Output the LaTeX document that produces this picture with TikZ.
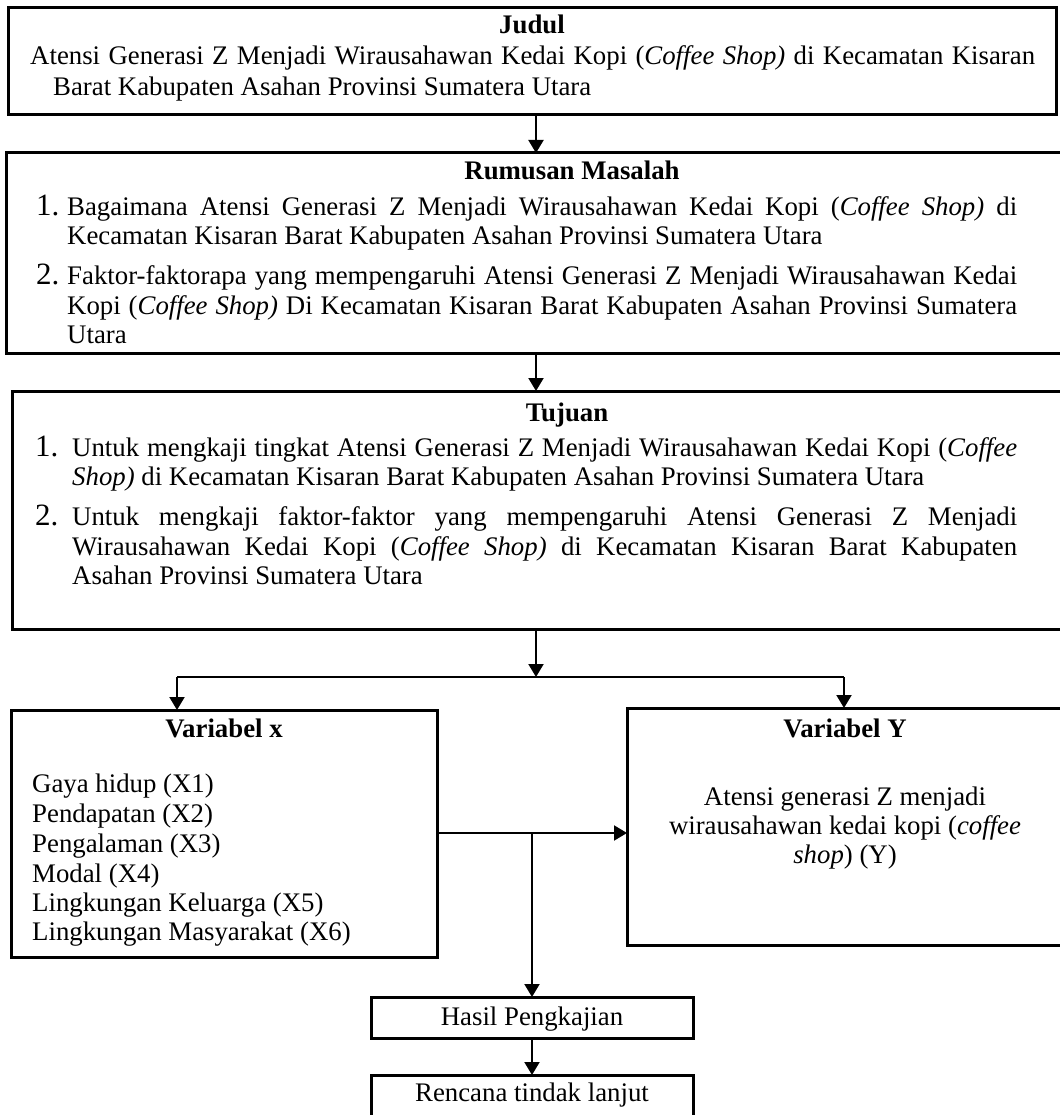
\documentclass[tikz,border=0pt]{standalone}
\usepackage{fontspec}
\setmainfont{Liberation Serif}
\usetikzlibrary{arrows.meta}
\begin{document}
\begin{tikzpicture}[x=1pt,y=-1pt,
  bx/.style={draw, line width=3pt, anchor=north west, inner sep=0pt, outer sep=0pt},
  txt/.style={anchor=base west, inner sep=0pt, font=\fontsize{26.8}{30}\selectfont},
  ctxt/.style={anchor=base, inner sep=0pt, font=\fontsize{26.8}{30}\selectfont},
  ttl/.style={anchor=base, inner sep=0pt, font=\fontsize{26.8}{30}\selectfont\bfseries},
  num/.style={anchor=base west, inner sep=0pt, font=\fontsize{31}{32}\selectfont},
  arr/.style={line width=2pt, -{Triangle[length=13pt,width=15pt]}},
  ln/.style={line width=2pt}
]
\useasboundingbox (0,0) rectangle (1059,1115);

% boxes
\node[bx, minimum width=1048pt, minimum height=107pt] (judul) at (8,8) {};
\node[bx, minimum width=1060pt, minimum height=200pt] (rumusan) at (6,153) {};
\node[bx, minimum width=1055pt, minimum height=238pt] (tujuan) at (12,391) {};
\node[bx, minimum width=426pt, minimum height=247pt] (varx) at (11,710) {};
\node[bx, minimum width=436pt, minimum height=237pt] (vary) at (627,708) {};
\node[bx, minimum width=322pt, minimum height=41pt] (hasil) at (371,997) {};
\node[bx, minimum width=322pt, minimum height=60pt] (rencana) at (371,1075) {};

% Judul text
\node[ttl] (jt) at (532,34) {Judul};
\node[txt] (j1) at (30,65) {\makebox[1005pt][s]{Atensi Generasi Z Menjadi Wirausahawan Kedai Kopi (\textit{Coffee Shop)} di Kecamatan Kisaran}};
\node[txt] (j2) at (53,96) {Barat Kabupaten Asahan Provinsi Sumatera Utara};

% Rumusan text
\node[ttl] (rt) at (572,180) {Rumusan Masalah};
\node[num] (r1n) at (36,215) {1.};
\node[txt] (r1a) at (67,215) {\makebox[950pt][s]{Bagaimana Atensi Generasi Z Menjadi Wirausahawan Kedai Kopi (\textit{Coffee Shop)} di}};
\node[txt] (r1b) at (67,244) {Kecamatan Kisaran Barat Kabupaten Asahan Provinsi Sumatera Utara};
\node[num] (r2n) at (36,284) {2.};
\node[txt] (r2a) at (67,284) {\makebox[950pt][s]{Faktor-faktorapa yang mempengaruhi Atensi Generasi Z Menjadi Wirausahawan Kedai}};
\node[txt] (r2b) at (67,314) {\makebox[950pt][s]{Kopi (\textit{Coffee Shop)} Di Kecamatan Kisaran Barat Kabupaten Asahan Provinsi Sumatera}};
\node[txt] (r2c) at (67,343) {Utara};

% Tujuan text
\node[ttl] (tt) at (567,421) {Tujuan};
\node[num] (t1n) at (35,456) {1.};
\node[txt] (t1a) at (72,456) {\makebox[945pt][s]{Untuk mengkaji tingkat Atensi Generasi Z Menjadi Wirausahawan Kedai Kopi (\textit{Coffee}}};
\node[txt] (t1b) at (72,485) {\textit{Shop)} di Kecamatan Kisaran Barat Kabupaten Asahan Provinsi Sumatera Utara};
\node[num] (t2n) at (35,525) {2.};
\node[txt] (t2a) at (72,525) {\makebox[945pt][s]{Untuk mengkaji faktor-faktor yang mempengaruhi Atensi Generasi Z Menjadi}};
\node[txt] (t2b) at (72,555) {\makebox[945pt][s]{Wirausahawan Kedai Kopi (\textit{Coffee Shop)} di Kecamatan Kisaran Barat Kabupaten}};
\node[txt] (t2c) at (72,584) {Asahan Provinsi Sumatera Utara};

% Variabel x
\node[ttl] (xt) at (224,737) {Variabel x};
\node[txt] (x1) at (32,792) {Gaya hidup (X1)};
\node[txt] (x2) at (32,822) {Pendapatan (X2)};
\node[txt] (x3) at (32,852) {Pengalaman (X3)};
\node[txt] (x4) at (32,882) {Modal (X4)};
\node[txt] (x5) at (32,911) {Lingkungan Keluarga (X5)};
\node[txt] (x6) at (32,940) {Lingkungan Masyarakat (X6)};

% Variabel Y
\node[ttl] (yt) at (845,737) {Variabel Y};
\node[ctxt] (y1) at (845,805) {Atensi generasi Z menjadi};
\node[ctxt] (y2) at (845,834) {wirausahawan kedai kopi (\textit{coffee}};
\node[ctxt] (y3) at (845,863) {\textit{shop}) (Y)};

% bottom boxes text
\node[ctxt] (ht) at (532,1025) {Hasil Pengkajian};
\node[ctxt] (rct) at (532,1101) {Rencana tindak lanjut};

% connectors
\coordinate (ax) at (536,0);
\coordinate (br) at (536,677);
\coordinate (bl) at (177,677);
\coordinate (brr) at (844,677);
\coordinate (mid) at (532,833);
\draw[arr] (judul.south -| ax) -- (rumusan.north -| ax);
\draw[arr] (rumusan.south -| ax) -- (tujuan.north -| ax);
\draw[arr] (tujuan.south -| ax) -- (br);
\draw[ln] (bl) -- (brr);
\draw[arr] (bl) -- (varx.north -| bl);
\draw[arr] (brr) -- (vary.north -| brr);
\draw[arr] (varx.east |- mid) -- (vary.west |- mid);
\draw[arr] (mid) -- (hasil.north);
\draw[arr] (hasil.south) -- (rencana.north);
\end{tikzpicture}
\end{document}
